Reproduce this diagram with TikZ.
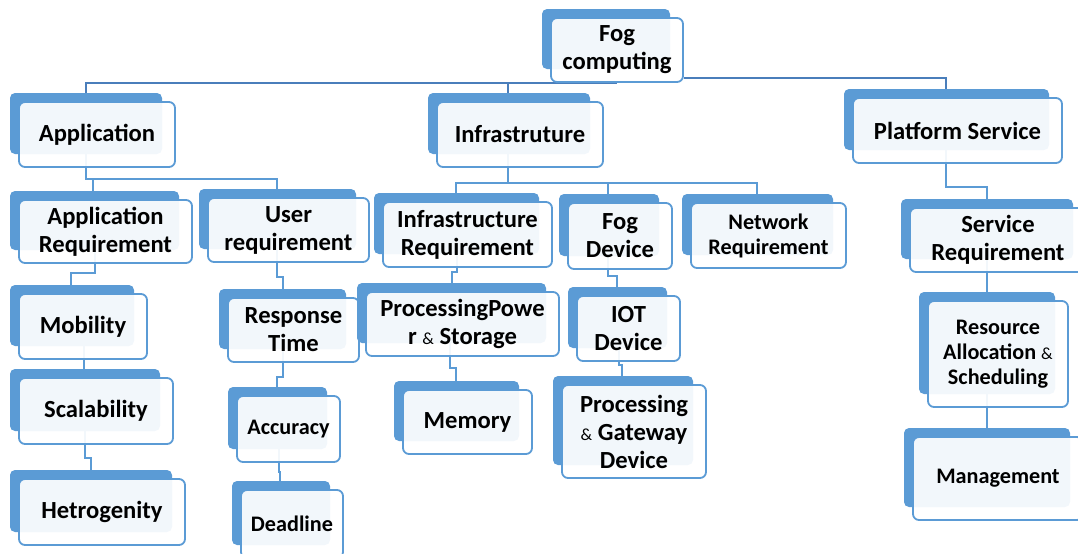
\documentclass[tikz,border=0pt]{standalone}
\usepackage{fontspec}
\setmainfont{Carlito}
\usetikzlibrary{fit,backgrounds}
\definecolor{boxblue}{HTML}{5B9BD5}
\definecolor{trunkblue}{HTML}{4A7EBB}
\newcommand\bigfont{\fontsize{12.3}{14}\selectfont\bfseries}
\newcommand\smallfont{\fontsize{11.1}{12.5}\selectfont\bfseries}
\newcommand\smallamp{{\normalfont\fontsize{8.5}{10}\selectfont\&}}
% #2 name, #3--#6 corners of the front box (px), #7 text
\newcommand\catbox[7][\bigfont]{%
  \node[backbox, fit={({#3-9},{#4-9}) ({#5-13},{#6-13})}] (b-#2) {};
  \node[frontbox, fit={(#3,#4) (#5,#6)}] (#2) {};
  \node[boxtext, font=#1] (t-#2) at (#2.center) {#7};
}
\tikzset{
  backbox/.style={fill=boxblue, rounded corners=2.5pt, inner sep=0pt},
  frontbox/.style={draw=boxblue, line width=0.9pt, fill=white, fill opacity=0.92,
    rounded corners=3pt, inner sep=0pt},
  boxtext/.style={align=center, inner sep=0pt},
  link/.style={draw=boxblue, line width=1pt},
  trunk/.style={draw=trunkblue, line width=1pt}
}

\begin{document}
\begin{tikzpicture}[x=0.5pt, y=-0.5pt]
  \clip (0,0) rectangle (1078,553);
  % top level
  \catbox{fog}{551}{18}{683}{82}{Fog\\computing}
  \catbox{app}{19}{102}{175}{167}{Application}
  \catbox{infra}{437}{102}{603}{167}{Infrastruture}
  \catbox{plat}{853}{98}{1062}{163}{Platform Service}
  % second level
  \catbox{appreq}{19}{200}{192}{263}{Application\\Requirement}
  \catbox{userreq}{208}{198}{369}{262}{User\\requirement}
  \catbox{infreq}{383}{202}{552}{267}{Infrastructure\\Requirement}
  \catbox{fogdev}{568}{203}{672}{269}{Fog\\Device}
  \catbox[\smallfont]{netreq}{691}{203}{846}{268}{Network\\Requirement}
  \catbox{servreq}{910}{208}{1086}{272}{Service\\Requirement}
  % application branch
  \catbox{mob}{19}{294}{147}{359}{Mobility}
  \catbox{scal}{19}{378}{173}{444}{Scalability}
  \catbox{het}{19}{479}{185}{545}{Hetrogenity}
  \catbox{resp}{228}{298}{359}{362}{Response\\Time}
  \catbox[\smallfont]{acc}{237}{396}{340}{462}{Accuracy}
  \catbox[\smallfont]{dead}{241}{490}{343}{558}{Deadline}
  % infrastructure branch
  \catbox{pps}{366}{292}{559}{356}{ProcessingPowe\\r \smallamp{} Storage}
  \catbox{mem}{403}{390}{532}{454}{Memory}
  \catbox{iot}{577}{296}{680}{361}{IOT\\Device}
  \catbox{pgd}{562}{385}{706}{478}{Processing\\\smallamp{} Gateway\\Device}
  % platform branch
  \catbox[\smallfont]{res}{928}{301}{1068}{407}{Resource\\Allocation \smallamp\\Scheduling}
  \catbox[\smallfont]{mgmt}{913}{437}{1083}{520}{Management}

  \begin{pgfonlayer}{background}
    % trunk from the root
    \draw[trunk] (86,0 |- b-app.north) |- (fog.south);
    \draw[trunk] (508,0 |- b-infra.north) -- (508,0 |- fog.south);
    \draw[trunk] (fog.east |- 0,78) -| (946,0 |- b-plat.north);
    % elbow links: parent / x down / y of bend / x in / child
    \foreach \a/\xa/\ym/\xb/\b in {app/86/179/93/appreq, app/86/179/277/userreq,
        infra/508/183/456/infreq, infra/508/183/608/fogdev, infra/508/183/757/netreq,
        plat/946/187/987/servreq, appreq/95/273/71/mob, mob/84/364/84/scal,
        scal/85/458/91/het, userreq/277/277/283/resp, resp/283/377/277/acc,
        acc/279/472/280/dead, infreq/457/272/452/pps, pps/450/368/456/mem,
        fogdev/608/276/617/iot, iot/619/365/622/pgd, servreq/987/285/987/res,
        res/987/418/987/mgmt} {
      \draw[link] (\xa,0 |- b-\a.south) -- (\xa,\ym) -- (\xb,\ym) -- (\xb,0 |- b-\b.north);
    }
  \end{pgfonlayer}
\end{tikzpicture}
\end{document}
